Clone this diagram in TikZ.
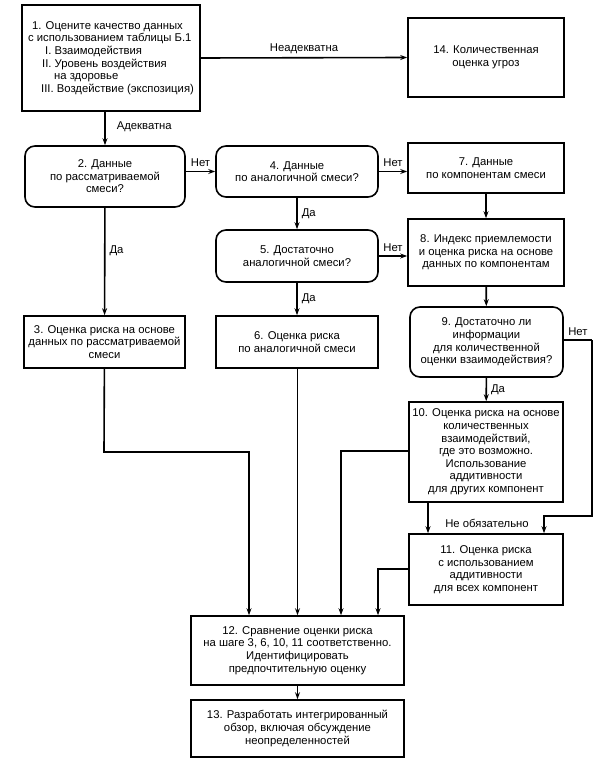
\documentclass[tikz,border=0pt]{standalone}
\usepackage{fontspec}
\setmainfont{Liberation Sans}
\usetikzlibrary{arrows.meta}
\begin{document}
\begin{tikzpicture}[x=1pt,y=-1pt,
  txt/.style={font=\fontsize{11.3}{12.6}\selectfont},
  box/.style={draw, line width=1.6pt, align=center, inner sep=2pt, txt},
  rbox/.style={box, rounded corners=10pt},
  conn/.style={line width=1.6pt, -{Stealth[length=7pt,width=5pt]}},
  wire/.style={line width=1.6pt},
  lbl/.style={txt, inner sep=1pt}]
\useasboundingbox (0,0) rectangle (605,767);

\node[box, minimum width=178pt, minimum height=106pt, align=left] (b1) at (111,58)
  {\hspace*{4pt}1. Оцените качество данных\\
   с использованием таблицы Б.1\\
   \hspace*{17pt}I. Взаимодействия\\
   \hspace*{14pt}II. Уровень воздействия\\
   \hspace*{26pt}на здоровье\\
   \hspace*{13pt}III. Воздействие (экспозиция)};
\node[box, minimum width=156pt, minimum height=79pt] (b14) at (486,57.5) {14. Количественная\\оценка угроз};
\node[rbox, minimum width=160pt, minimum height=61pt] (b2) at (105,176.5) {2. Данные\\по рассматриваемой\\смеси?};
\node[rbox, minimum width=162pt, minimum height=51pt] (b4) at (297,171.5) {4. Данные\\по аналогичной смеси?};
\node[box, minimum width=156pt, minimum height=50pt] (b7) at (486,168) {7. Данные\\по компонентам смеси};
\node[rbox, minimum width=162pt, minimum height=52pt] (b5) at (297,256) {5. Достаточно\\аналогичной смеси?};
\node[box, minimum width=156pt, minimum height=67pt] (b8) at (486,252.5) {8. Индекс приемлемости\\и оценка риска на основе\\данных по компонентам};
\node[box, minimum width=161pt, minimum height=52pt] (b3) at (104.5,342) {3. Оценка риска на основе\\данных по рассматриваемой\\смеси};
\node[box, minimum width=162pt, minimum height=52pt] (b6) at (297,342) {6. Оценка риска\\по аналогичной смеси};
\node[rbox, minimum width=153pt, minimum height=70pt] (b9) at (486.5,342) {9. Достаточно ли\\информации\\для количественной\\оценки взаимодействия?};
\node[box, minimum width=154pt, minimum height=100pt] (b10) at (486,452) {10. Оценка риска на основе\\количественных\\взаимодействий,\\где это возможно.\\Использование\\аддитивности\\для других компонент};
\node[box, minimum width=154pt, minimum height=71pt] (b11) at (486,569.5) {11. Оценка риска\\с использованием\\аддитивности\\для всех компонент};
\node[box, minimum width=213pt, minimum height=69pt] (b12) at (297.5,650.5) {12. Сравнение оценки риска\\на шаге 3, 6, 10, 11 соответственно.\\Идентифицировать\\предпочтительную оценку};
\node[box, minimum width=213pt, minimum height=57pt] (b13) at (297.5,728.5) {13. Разработать интегрированный\\обзор, включая обсуждение\\неопределенностей};

% bend points
\coordinate (n9a) at (592,340);
\coordinate (n9b) at (592,516);
\coordinate (n9c) at (544,516);
\coordinate (c3a) at (104,452);
\coordinate (c3b) at (249,452);
\coordinate (c10a) at (341,451);
\coordinate (c11a) at (378,569);

% connectors
\draw[conn] (b1.east) -- (b14.west) node[lbl, midway, above=2pt] {Неадекватна};
\draw[conn] (b1.south -| b2.north) -- (b2.north) node[lbl, pos=0.45, right=10pt] {Адекватна};
\draw[conn] (b2.east |- b4.west) -- (b4.west) node[lbl, pos=0.5, above=3pt] {Нет};
\draw[conn] (b4.east) -- (b4.east -| b7.west) node[lbl, pos=0.5, above=3pt] {Нет};
\draw[conn] (b7) -- (b8);
\draw[conn] (b4) -- (b5) node[lbl, midway, right=3pt] {Да};
\draw[conn] (b5.east) -- (b5.east -| b8.west) node[lbl, pos=0.5, above=3pt] {Нет};
\draw[conn] (b5) -- (b6) node[lbl, midway, right=3pt] {Да};
\draw[conn] (b2) -- (b3) node[lbl, pos=0.4, right=3pt] {Да};
\draw[conn] (b8) -- (b9);
\draw[conn] (b9) -- (b10) node[lbl, midway, right=3pt] {Да};
\draw[wire] (b9.east |- n9a) -- (n9a) node[lbl, pos=0.5, above=3pt] {Нет};
\draw[conn] (n9a) -- (n9b) -- (n9c) -- (n9c |- b11.north);
\draw[conn] (b10.south -| 428,0) -- (b11.north -| 428,0);
\node[lbl] (ob) at (487,523) {Не обязательно};
\draw[conn] (b10.west |- c10a) -- (c10a) -- (c10a |- b12.north);
\draw[conn] (b11.west |- c11a) -- (c11a) -- (c11a |- b12.north);
\draw[conn] (b3) -- (c3a) -- (c3b) -- (c3b |- b12.north);
\draw[conn] (b6.south -| b12.north) -- (b12.north);
\draw[conn] (b12) -- (b13);
\end{tikzpicture}
\end{document}
